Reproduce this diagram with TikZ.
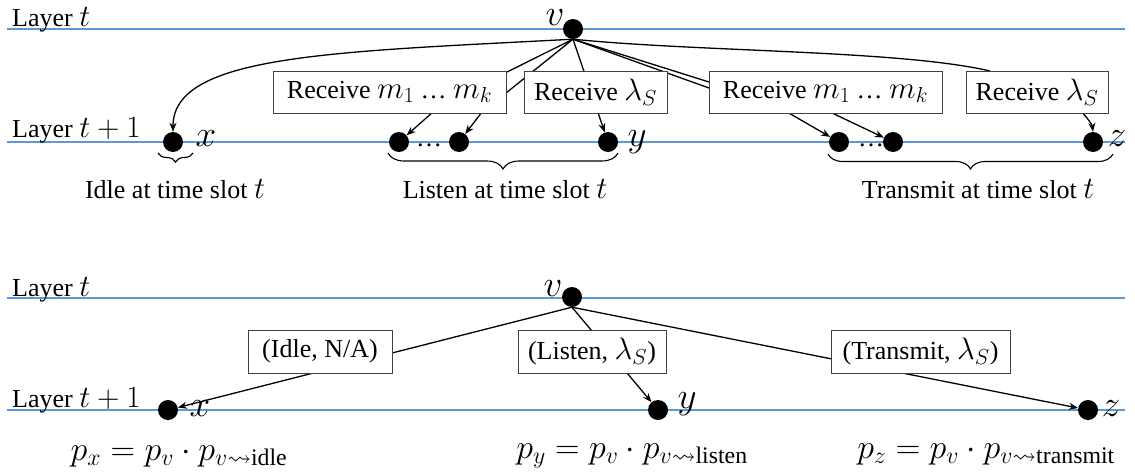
\documentclass[tikz,border=0pt]{standalone}
\usepackage{fix-cm}
\usepackage{amsmath,amssymb}
\usepackage{fontspec}
\setmainfont{Liberation Serif}
\usetikzlibrary{arrows.meta,decorations.pathreplacing}
\definecolor{lineblue}{RGB}{91,155,213}
\definecolor{boxgray}{RGB}{64,64,64}
\newcommand{\mymath}[1]{{\fontsize{31}{37}\selectfont$#1$}}
\tikzset{
  layerline/.style={draw=lineblue, line width=1.1pt},
  dot/.style={circle, fill=black, inner sep=0pt, minimum size=20pt},
  conn/.style={line width=1.3pt},
  arr/.style={conn, -{Stealth[length=9pt,width=7pt]}},
  lbox/.style={draw=boxgray, line width=0.9pt, fill=white, inner sep=0pt, minimum height=42pt},
  mlab/.style={anchor=base, inner sep=0pt, font=\fontsize{37}{44}\selectfont},
  txt/.style={anchor=base, inner sep=0pt},
  brc/.style={decorate, decoration={brace, mirror, amplitude=#1}, line width=1.1pt},
  frm/.style={anchor=base, inner sep=0pt, font=\fontsize{34}{41}\selectfont},
}
\begin{document}
\begin{tikzpicture}[x=1pt, y=-1pt, font=\fontsize{26}{31}\selectfont]
\useasboundingbox (0,0) rectangle (1135,474);

% ---------- top diagram ----------
\draw[layerline] (7,29) -- (1125,29);
\draw[layerline] (7,142) -- (1125,142);
\node[txt, anchor=base west] (lt) at (12,26) {Layer \mymath{t}};
\node[txt, anchor=base west] (lt1) at (12,137) {Layer \mymath{t+1}};

\node[dot] (v) at (573,29) {};
\node[dot] (x) at (173,142) {};
\node[dot] (l1) at (399,142) {};
\node[dot] (l2) at (459,142) {};
\node[dot] (y) at (608,142) {};
\node[dot] (t1) at (839,142) {};
\node[dot] (t2) at (893,142) {};
\node[dot] (z) at (1093,142) {};

\node[mlab] (vlab) at (555,25) {$v$};
\node[mlab] (xlab) at (206,146) {$x$};
\node[mlab] (ylab) at (637,146) {$y$};
\node[mlab] (zlab) at (1117,146) {$z$};
\node[txt] (ld) at (429,146) {…};
\node[txt] (td) at (871,146) {…};

% connectors
\draw[arr] (v.south) .. controls (330,52) and (173,55) .. (x.north);
\draw[arr] (v.south) -- (505,73) -- (433,112) -- (l1);
\draw[arr] (v.south) -- (506,93) -- (482,112) -- (l2);
\draw[arr] (v.south) -- (y);
\draw[arr] (v.south) -- (709,82) -- (787,112) -- (t1);
\draw[arr] (v.south) -- (709,88) -- (830,112) -- (t2);
\draw[conn] (v.south) .. controls (700,52) and (900,50) .. (990,71);
\draw[arr] (1082,112) .. controls (1087,118) and (1092,124) .. (z.north);

\node[lbox, minimum width=233pt] (b1) at (389.5,92) {Receive \mymath{m_1} … \mymath{m_k}};
\node[lbox, minimum width=143pt] (b2) at (595.5,92) {Receive \mymath{\lambda_S}};
\node[lbox, minimum width=233pt] (b3) at (825.5,92) {Receive \mymath{m_1} … \mymath{m_k}};
\node[lbox, minimum width=142pt] (b4) at (1037,92) {Receive \mymath{\lambda_S}};

\draw[brc=9pt] (158,153) -- (193,153);
\draw[brc=16pt] (388,153) -- (618,153);
\draw[brc=15pt] (828,154) -- (1113,154);
\node[txt] (c1) at (175,198) {Idle at time slot \mymath{t}};
\node[txt] (c2) at (505,198) {Listen at time slot \mymath{t}};
\node[txt] (c3) at (978,198) {Transmit at time slot \mymath{t}};

% ---------- bottom diagram ----------
\draw[layerline] (7,298) -- (1125,298);
\draw[layerline] (7,410) -- (1125,410);
\node[txt, anchor=base west] (blt) at (12,296) {Layer \mymath{t}};
\node[txt, anchor=base west] (blt1) at (12,407) {Layer \mymath{t+1}};

\node[dot] (bv) at (572,297) {};
\node[dot] (bx) at (168,410) {};
\node[dot] (by) at (658,410) {};
\node[dot] (bz) at (1088,410) {};

\node[mlab] (bvlab) at (553,296) {$v$};
\node[mlab] (bxlab) at (200,416) {$x$};
\node[mlab] (bylab) at (687,408) {$y$};
\node[mlab] (bzlab) at (1111,416) {$z$};

\draw[arr] (bv.south) -- (bx);
\draw[arr] (bv.south) -- (by);
\draw[arr] (bv.south) -- (bz);

\node[lbox, minimum width=144pt, minimum height=43pt] (bb1) at (320,351.5) {(Idle, N/A)};
\node[lbox, minimum width=148pt, minimum height=43pt] (bb2) at (592,351.5) {(Listen, \mymath{\lambda_S})};
\node[lbox, minimum width=179pt, minimum height=43pt] (bb3) at (920.5,351.5) {(Transmit, \mymath{\lambda_S})};

\node[frm] (fx) at (179,460) {$p_x = p_v \cdot p_{v\rightsquigarrow\text{idle}}$};
\node[frm] (fy) at (632,458) {$p_y = p_v \cdot p_{v\rightsquigarrow\text{listen}}$};
\node[frm] (fz) at (986,458) {$p_z = p_v \cdot p_{v\rightsquigarrow\text{transmit}}$};
\end{tikzpicture}
\end{document}
